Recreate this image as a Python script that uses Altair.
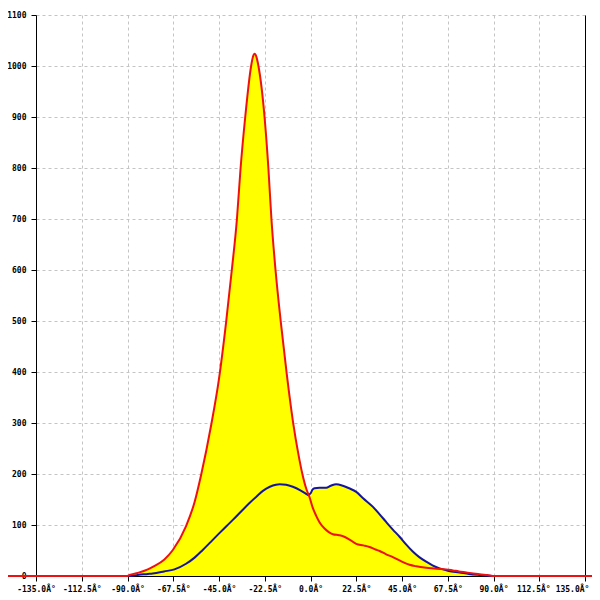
import altair as alt
import pandas as pd

# Red series (angle in degrees, value)
red_x = [-150, -135, -90, -89, -85, -80, -77.6, -72, -67.7, -61.2, -57, -53.8, -48.8, -45.1,
         -41.5, -38.7, -36.2, -34.4, -32.1, -29.2, -28.3, -27.5, -26.6, -25.6, -22.6, -20.7, -19.2, -17.2,
         -14.6, -11.7, -8.4, -6, -4, -2, -0.5, 1, 2.8, 4.5, 6.9, 9, 11, 14, 16, 19, 22.5, 26,
         29, 32, 34, 37, 40.5, 44, 48.7, 52, 56.9, 62, 66.7, 70, 73, 76.6, 80, 84, 87, 90, 135, 150]
red_y = [0, 0, 0, 2, 6, 13, 18, 32, 51, 98, 145, 198, 297, 384,
         498, 600, 699, 799, 900, 1000, 1018, 1024, 1018, 1000, 900, 799, 699, 600,
         498, 397, 297, 240, 200, 170, 155, 135, 118, 105, 93, 86, 82, 80, 78, 72, 63, 60,
         57, 52, 49, 43, 37, 30, 22, 19, 16, 14, 13, 11, 9, 7, 5, 3, 2, 0, 0, 0]

# Blue series
blue_x = [-90, -89, -85, -80, -77.6, -72, -66.9, -61.2, -57, -53, -49, -44.8, -41.5, -38.2,
          -34, -30, -26.5, -23.4, -20, -17, -15.2, -12, -8.7, -5, -2.5, -1.3, 0, 1.1, 2, 4.4,
          7.7, 10, 12.6, 15.9, 19, 22.5, 26, 30.6, 34, 37.2, 40.5, 43.8, 47, 50.3, 53.5, 56.9,
          60, 63.5, 68, 73.3, 78, 83.1, 90]
blue_y = [0, 0, 2, 4, 5, 9, 13, 24, 36, 51, 67, 84, 97, 110,
          127, 143, 156, 167, 175, 179, 180, 179, 175, 168, 162, 159, 162, 170, 172, 173,
          173, 177, 180, 177, 172, 165, 152, 136, 121, 106, 91, 77, 62, 48, 37, 28,
          21, 15, 10, 7, 4, 2, 0]

x_ticks = [-135, -112.5, -90, -67.5, -45, -22.5, 0, 22.5, 45, 67.5, 90, 112.5, 135]
y_ticks = [0, 100, 200, 300, 400, 500, 600, 700, 800, 900, 1000, 1100]

red_df = pd.DataFrame({"x": red_x, "y": red_y})
blue_df = pd.DataFrame({"x": blue_x, "y": blue_y})

FONT = "DejaVu Sans Mono"
xscale = alt.Scale(domain=[-135, 135], nice=False, zero=False)
yscale = alt.Scale(domain=[0, 1100], nice=False)

xaxis = alt.Axis(values=x_ticks, labelExpr="replace(format(datum.value, '.1f'), '\u2212', '-') + 'Â°'",
                 grid=True, gridDash=[3, 3], gridColor="#c4c4c4", gridWidth=1,
                 domainColor="black", tickColor="black", tickSize=5, labelPadding=4,
                 labelFont=FONT, labelFontSize=8, labelColor="black", labelFontWeight="bold",
                 labelOffset={"condition": [{"test": "datum.value >= 130", "value": -13},
                                            {"test": "datum.value >= 100", "value": -6}],
                              "value": 0},
                 title=None, labelOverlap=False, labelFlush=False, labelBound=False)
yaxis = alt.Axis(values=y_ticks, format="d", grid=True, gridDash=[3, 3], gridColor="#c4c4c4", gridWidth=1,
                 domainColor="black", tickColor="black", tickSize=5, labelPadding=5,
                 labelFont=FONT, labelFontSize=8, labelColor="black", labelFontWeight="bold",
                 title=None, labelFlush=False, labelBound=False, labelOverlap=False)
yaxis_right = alt.Axis(orient="right", values=y_ticks, grid=False, labels=False, ticks=False,
                       domainColor="black", title=None)

red_area = alt.Chart(red_df).mark_area(color="#ffff00", opacity=1, clip=False,
                                       interpolate="monotone").encode(
    x=alt.X("x:Q", scale=xscale, axis=xaxis),
    y=alt.Y("y:Q", scale=yscale, axis=yaxis),
)
blue_area = alt.Chart(blue_df).mark_area(color="#ffff00", opacity=1,
                                         interpolate="monotone").encode(
    x=alt.X("x:Q", scale=xscale),
    y=alt.Y("y:Q", scale=yscale),
)
blue_line = alt.Chart(blue_df).mark_line(color="#1414a0", strokeWidth=2,
                                         interpolate="monotone").encode(
    x=alt.X("x:Q", scale=xscale),
    y=alt.Y("y:Q", scale=yscale),
)
red_line = alt.Chart(red_df).mark_line(color="#ee1111", strokeWidth=2, clip=False,
                                       interpolate="monotone").encode(
    x=alt.X("x:Q", scale=xscale),
    y=alt.Y("y:Q", scale=yscale, axis=yaxis_right),
)

left = alt.layer(red_area, blue_area, blue_line)
chart = alt.layer(left, red_line).resolve_axis(y="independent").resolve_scale(y="shared").properties(
    width=549, height=561,
    padding={"left": 28, "top": 7, "right": 7, "bottom": 16},
    autosize=alt.AutoSizeParams(type="none"),
).configure_view(stroke=None)

chart.save("out.html", embed_options={"renderer": "svg", "actions": False})
